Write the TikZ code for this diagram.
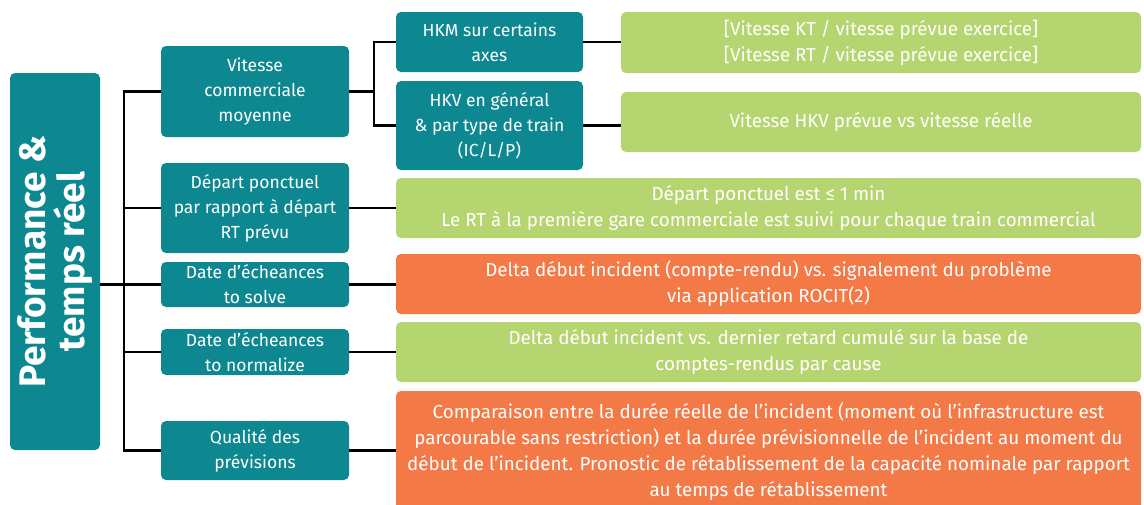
\documentclass[tikz,border=0pt]{standalone}
\usepackage{fontspec}
\setmainfont{Fira Sans}
\definecolor{tealc}{HTML}{0E8890}
\definecolor{greenc}{HTML}{B4D56F}
\definecolor{orangec}{HTML}{F37947}
\begin{document}
\begin{tikzpicture}[x=1pt,y=-1pt,
  box/.style={rounded corners=5pt, inner sep=0pt, text=white, align=center},
  tealbox/.style={box, fill=tealc, font=\fontsize{17.5}{25}\selectfont},
  l1box/.style={tealbox, minimum width=188pt},
  l2box/.style={tealbox, minimum width=187pt},
  greenbox/.style={box, fill=greenc, font=\fontsize{18.8}{26}\selectfont},
  orangebox/.style={box, fill=orangec, font=\fontsize{18.8}{26}\selectfont},
  conn/.style={line width=2.6pt, black}]
\clip (0,0) rectangle (1144,504);
% root
\node[box, fill=tealc, minimum width=377pt, minimum height=90pt, rotate=90,
      font=\fontsize{37}{39}\selectfont\bfseries] (root) at (55,261.5) {Performance \&\\temps réel};
% level 1
\node[l1box, minimum height=91pt] (v1) at (255,91.5) {Vitesse\\commerciale\\moyenne};
\node[l1box, minimum height=90pt] (p1) at (255,208) {Départ ponctuel\\par rapport à départ\\RT prévu};
\node[l1box, minimum height=45pt] (s1) at (255,284.5) {Date d’écheances\\to solve};
\node[l1box, minimum height=46pt] (n1) at (255,352) {Date d’écheances\\to normalize};
\node[l1box, minimum height=59pt] (q1) at (255,450.5) {Qualité des\\prévisions};
% level 2
\node[l2box, minimum height=60pt] (hkm) at (489.5,42) {HKM sur certains\\axes};
\node[l2box, minimum height=89pt] (hkv) at (489.5,125.5) {HKV en général\\\& par type de train\\(IC/L/P)};
% details
\node[greenbox, minimum width=520pt, minimum height=61pt] (d1) at (881,42.5) {[Vitesse KT / vitesse prévue exercice]\\{}[Vitesse RT / vitesse prévue exercice]};
\node[greenbox, minimum width=520pt, minimum height=60pt] (d2) at (881,122) {Vitesse HKV prévue vs vitesse réelle};
\node[greenbox, minimum width=745pt, minimum height=60pt] (d3) at (768.5,208) {Départ ponctuel est ≤ 1 min\\Le RT à la première gare commerciale est suivi pour chaque train commercial};
\node[orangebox, minimum width=745pt, minimum height=60pt] (d4) at (768.5,284) {Delta début incident (compte-rendu) vs. signalement du problème\\via application ROCIT(2)};
\node[greenbox, minimum width=745pt, minimum height=60pt] (d5) at (768.5,352) {Delta début incident vs. dernier retard cumulé sur la base de\\comptes-rendus par cause};
\node[orangebox, minimum width=745pt, minimum height=122pt] (d6) at (768.5,452) {Comparaison entre la durée réelle de l’incident (moment où l’infrastructure est\\parcourable sans restriction) et la durée prévisionnelle de l’incident au moment du\\début de l’incident. Pronostic de rétablissement de la capacité nominale par rapport\\au temps de rétablissement};
% connectors
\coordinate (sx) at (124,0);
\coordinate (fx) at (374,0);
\draw[conn] (v1.west) -| (sx |- q1.west) -- (q1.west);
\draw[conn] (sx |- p1.west) -- (p1.west);
\draw[conn] (sx |- n1.west) -- (n1.west);
\draw[conn] (root.south |- s1.west) -- (s1.west);
\draw[conn] (v1.east) -- (v1.east -| fx);
\draw[conn] (hkm.west) -| (fx |- hkv.west) -- (hkv.west);
\draw[conn] (hkm.east) -- (hkm.east -| d1.west);
\draw[conn] (hkv.east) -- (hkv.east -| d2.west);
\draw[conn] (p1.east) -- (p1.east -| d3.west);
\draw[conn] (s1.east) -- (s1.east -| d4.west);
\draw[conn] (n1.east) -- (n1.east -| d5.west);
\draw[conn] (q1.east) -- (q1.east -| d6.west);
\end{tikzpicture}
\end{document}
